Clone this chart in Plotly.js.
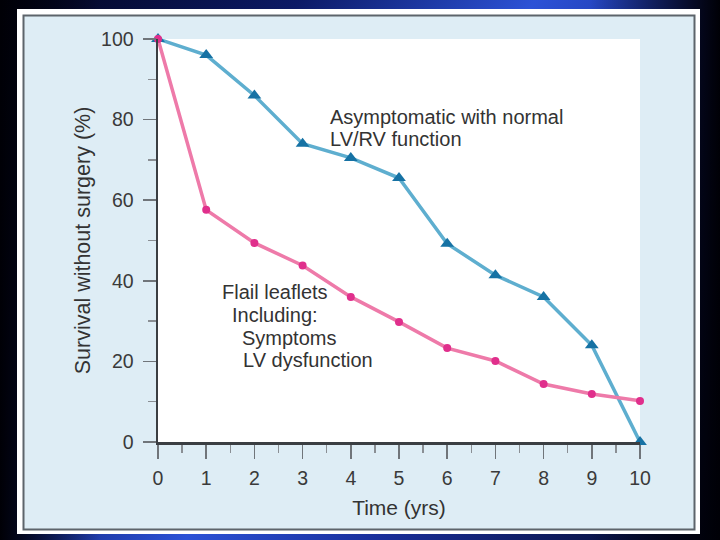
<!DOCTYPE html>
<html>
<head>
<meta charset="utf-8">
<script src="https://cdn.plot.ly/plotly-3.0.1.min.js"></script>
<style>
  html, body { margin: 0; padding: 0; background: #00000a; }
  #chart {
    width: 720px; height: 540px;
    background:
      linear-gradient(to right, #000006 0%, rgba(0,0,8,0.85) 2.5%, rgba(0,0,8,0) 14%, rgba(0,0,8,0) 82%, rgba(0,0,8,0.85) 97%, #000006 100%),
      linear-gradient(123deg, #02041a 0%, #0c1a66 28%, #2c52d6 50%, #1a2f9a 68%, #030822 100%);
  }
</style>
</head>
<body>
<div id="chart"></div>
<script>
// ---- data ----
const years = [0, 1, 2, 3, 4, 5, 6, 7, 8, 9, 10];
const asymptomatic = [100, 96, 86, 74, 70.5, 65.5, 49.2, 41.4, 36, 24, 0];
const flail = [100, 57.6, 49.4, 43.8, 36, 29.8, 23.3, 20.1, 14.4, 11.9, 10.2];
const xTickVals = [0, 1, 2, 3, 4, 5, 6, 7, 8, 9, 10];
const yTickVals = [0, 20, 40, 60, 80, 100];
const asymNote = ["Asymptomatic with normal", "LV/RV function"];
const flailNote = ["Flail leaflets", "Including:", "Symptoms", "LV dysfunction"];

// ---- layout geometry (pixels) ----
const W = 720, H = 540;
const L = 158, R = 640, T = 39, B = 442;
const pw = R - L, ph = B - T;
const px = v => (v - L) / pw;          // pixel x -> paper x
const py = v => (B - v) / ph;          // pixel y -> paper y

const FONT = "Liberation Sans, Arial, Helvetica, sans-serif";
const TXT = "#333333";

const traces = [
  {
    x: years, y: asymptomatic, type: "scatter", mode: "lines+markers",
    name: "Asymptomatic", cliponaxis: false,
    line: { color: "#5eaecf", width: 3.5 },
    marker: { symbol: "triangle-up", size: 12, color: "#1672a4" }
  },
  {
    x: years, y: flail, type: "scatter", mode: "lines+markers",
    name: "Flail leaflets", cliponaxis: false,
    line: { color: "#ee7aa9", width: 3.5 },
    marker: { symbol: "circle", size: 8, color: "#e02f8c" }
  }
];

const annPos = {
  asym: [[328, 117], [328, 139]],
  flail: [[220, 292], [230, 315], [240, 338], [241, 360]]
};
const annotations = [];
asymNote.forEach((t, i) => annotations.push({
  text: t, xref: "paper", yref: "paper",
  x: px(annPos.asym[i][0]), y: py(annPos.asym[i][1]),
  xanchor: "left", yanchor: "middle", showarrow: false,
  font: { family: FONT, size: 20, color: TXT }
}));
flailNote.forEach((t, i) => annotations.push({
  text: t, xref: "paper", yref: "paper",
  x: px(annPos.flail[i][0]), y: py(annPos.flail[i][1]),
  xanchor: "left", yanchor: "middle", showarrow: false,
  font: { family: FONT, size: 20, color: TXT }
}));

const shapes = [
  // white outer frame
  { type: "rect", xref: "paper", yref: "paper", layer: "below",
    x0: px(17), x1: px(700), y0: py(534), y1: py(9),
    fillcolor: "#ffffff", line: { width: 0 } },
  // gray border + light blue panel
  { type: "rect", xref: "paper", yref: "paper", layer: "below",
    x0: px(23.5), x1: px(694.5), y0: py(529.5), y1: py(15.5),
    fillcolor: "#deedf5", line: { color: "#5d646b", width: 2 } },
  // white plotting area
  { type: "rect", xref: "paper", yref: "paper", layer: "below",
    x0: 0, x1: 1, y0: 0, y1: 1,
    fillcolor: "#ffffff", line: { width: 0 } }
];

const layout = {
  width: W, height: H,
  margin: { l: L, r: W - R, t: T, b: H - B, pad: 0 },
  paper_bgcolor: "rgba(0,0,0,0)",
  plot_bgcolor: "#ffffff",
  showlegend: false,
  font: { family: FONT, color: TXT },
  xaxis: {
    range: [0, 10], tickvals: xTickVals, ticktext: xTickVals.map(String),
    showgrid: false, zeroline: false,
    showline: true, linecolor: "#3a3e42", linewidth: 2.5,
    ticks: "outside", ticklen: 14, tickwidth: 1.5, tickcolor: "#70757a",
    ticklabelstandoff: 3,
    minor: { dtick: 0.5, ticks: "outside", ticklen: 8, tickwidth: 1.5, tickcolor: "#8a8f94", showgrid: false },
    tickfont: { family: FONT, size: 19.5, color: "#3a3a3a" },
    title: { text: "Time (yrs)", font: { family: FONT, size: 21, color: TXT }, standoff: 13 },
    automargin: false
  },
  yaxis: {
    range: [0, 100], tickvals: yTickVals, ticktext: yTickVals.map(String),
    showgrid: false, zeroline: false,
    showline: true, linecolor: "#3a3e42", linewidth: 2.5,
    ticks: "outside", ticklen: 13, tickwidth: 1.5, tickcolor: "#70757a",
    ticklabelstandoff: 5,
    minor: { dtick: 10, ticks: "outside", ticklen: 8, tickwidth: 1.5, tickcolor: "#8a8f94", showgrid: false },
    tickfont: { family: FONT, size: 19.5, color: "#3a3a3a" },
    title: { text: "Survival without surgery (%)", font: { family: FONT, size: 21.5, color: TXT }, standoff: 5 },
    automargin: false
  },
  shapes: shapes,
  annotations: annotations
};

Plotly.newPlot("chart", traces, layout, { displayModeBar: false, staticPlot: true });
</script>
</body>
</html>
